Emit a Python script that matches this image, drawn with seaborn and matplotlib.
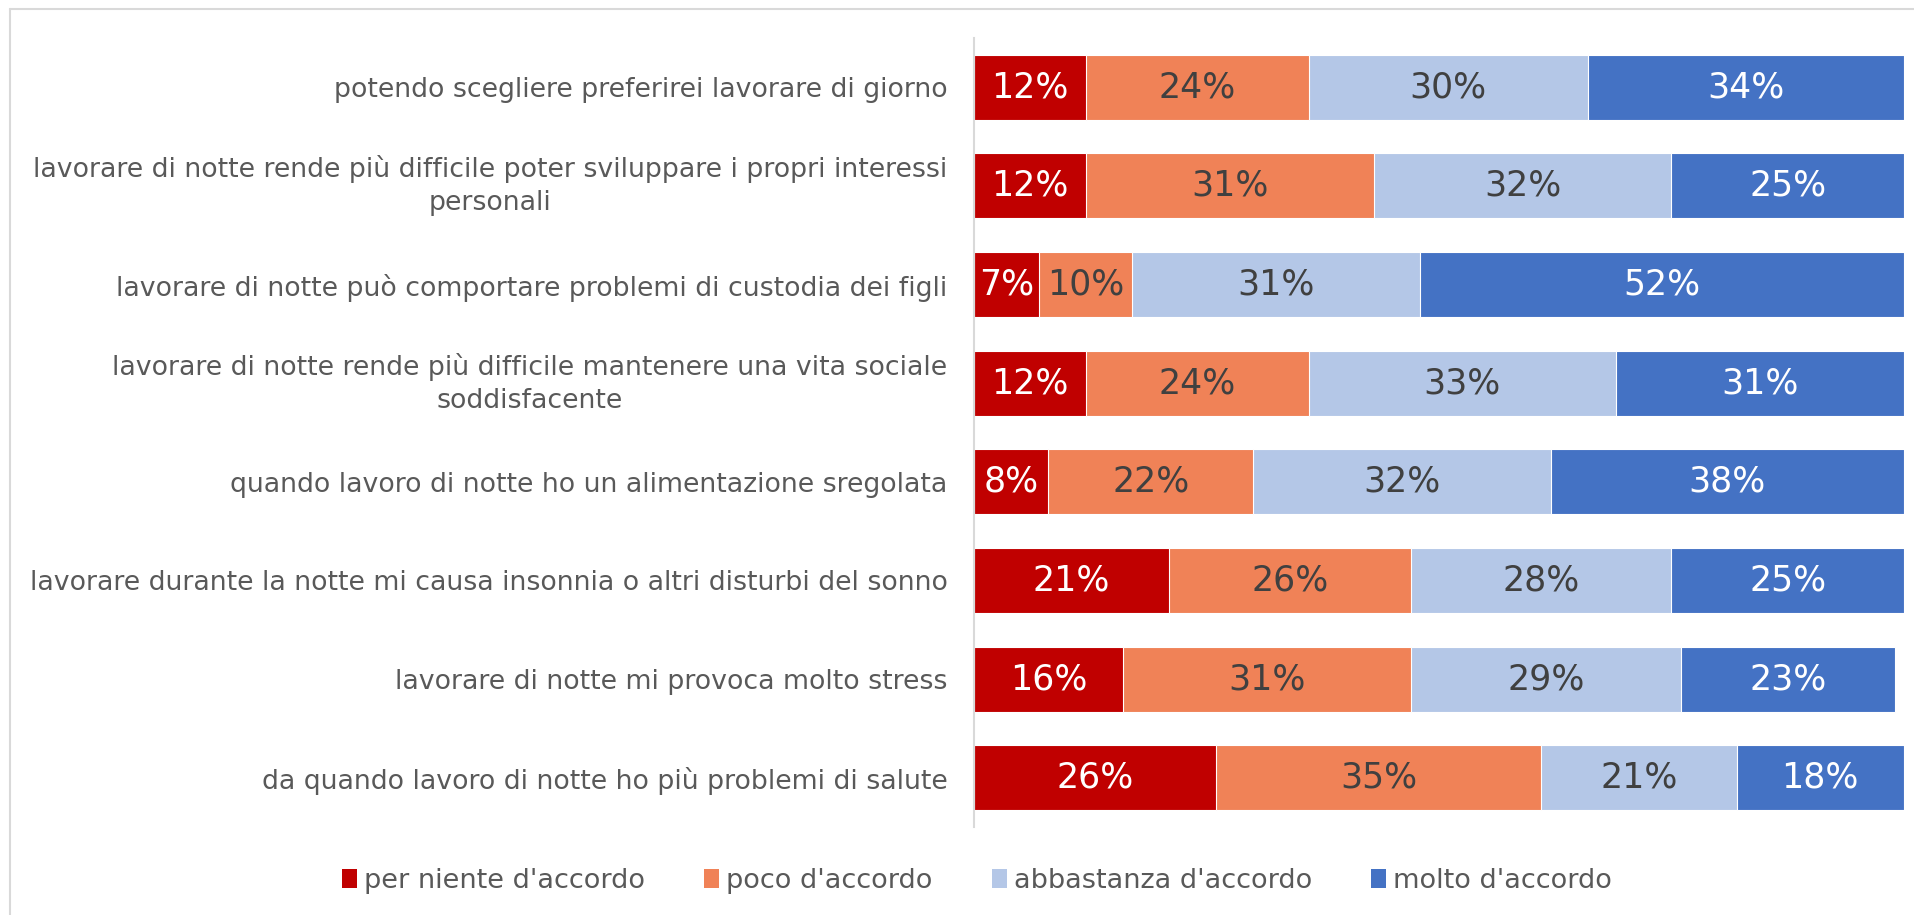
import numpy as np
import matplotlib
matplotlib.use("Agg")
import matplotlib.pyplot as plt
from matplotlib.patches import Patch
from matplotlib.lines import Line2D
import seaborn as sns

# Survey statements, top to bottom
statements = [
    "potendo scegliere preferirei lavorare di giorno",
    "lavorare di notte rende più difficile poter sviluppare i propri interessi\npersonali",
    "lavorare di notte può comportare problemi di custodia dei figli",
    "lavorare di notte rende più difficile mantenere una vita sociale\nsoddisfacente",
    "quando lavoro di notte ho un alimentazione sregolata",
    "lavorare durante la notte mi causa insonnia o altri disturbi del sonno",
    "lavorare di notte mi provoca molto stress",
    "da quando lavoro di notte ho più problemi di salute",
]

levels = ["per niente d'accordo", "poco d'accordo", "abbastanza d'accordo", "molto d'accordo"]

# Share of answers (%) for each agreement level
per_niente = [12, 12, 7, 12, 8, 21, 16, 26]
poco = [24, 31, 10, 24, 22, 26, 31, 35]
abbastanza = [30, 32, 31, 33, 32, 28, 29, 21]
molto = [34, 25, 52, 31, 38, 25, 23, 18]

colors = ["#C00000", "#F08257", "#B4C7E7", "#4472C4"]
value_colors = ["white", "#404040", "#404040", "white"]
text_gray = "#595959"

sns.set_theme(style="white")
plt.rcParams["font.family"] = ["DejaVu Sans"]

W, H = 1914, 915
fig = plt.figure(figsize=(W / 100, H / 100), dpi=100)
fig.patch.set_facecolor("white")
ax = fig.add_axes([974 / W, 1 - 827 / H, (1904 - 974) / W, (827 - 38) / H])

series = np.array([per_niente, poco, abbastanza, molto], dtype=float)
cum = np.cumsum(series, axis=0)

# Stacked bars: draw the running totals from the outermost level inward
for k in range(len(levels) - 1, -1, -1):
    sns.barplot(x=cum[k], y=statements, orient="h", color=colors[k],
                saturation=1, width=0.66, edgecolor="white", linewidth=0.8,
                ax=ax)

# Value labels centred in each segment
for k in range(len(levels)):
    for i in range(len(statements)):
        left = cum[k - 1][i] if k > 0 else 0.0
        val = series[k][i]
        ax.text(left + val / 2, i, f"{int(val)}%", ha="center", va="center",
                color=value_colors[k], fontsize=25)

ax.set_xlim(0, 100)
ax.set_ylim(len(statements) - 0.5, -0.5)
ax.set_xlabel("")
ax.set_ylabel("")
ax.set_xticks([])
for side in ["top", "right", "bottom"]:
    ax.spines[side].set_visible(False)
ax.spines["left"].set_color("#D9D9D9")
ax.spines["left"].set_linewidth(1.5)
ax.tick_params(axis="y", length=0, pad=19, labelsize=19.3, labelcolor=text_gray)
for t in ax.get_yticklabels():
    t.set_multialignment("center")
    t.set_linespacing(1.35)
    if "\n" in t.get_text():
        t.set_verticalalignment("center")

# Legend along the bottom
handles = [Patch(facecolor=c, edgecolor="none") for c in colors]
fig.legend(handles, levels, loc="center", bbox_to_anchor=(977 / W, 1 - 881 / H),
           ncol=4, frameon=False, fontsize=19.5, handlelength=0.55,
           handleheight=0.7, handletextpad=0.25, columnspacing=2.2,
           labelcolor=text_gray)

# Chart frame (top and left edges)
frame_kw = dict(color="#D9D9D9", linewidth=1.5, transform=fig.transFigure)
fig.add_artist(Line2D([10 / W, 1], [1 - 9 / H, 1 - 9 / H], **frame_kw))
fig.add_artist(Line2D([10 / W, 10 / W], [1 - 9 / H, 0], **frame_kw))

fig.savefig("out.png", dpi=100, facecolor="white")
